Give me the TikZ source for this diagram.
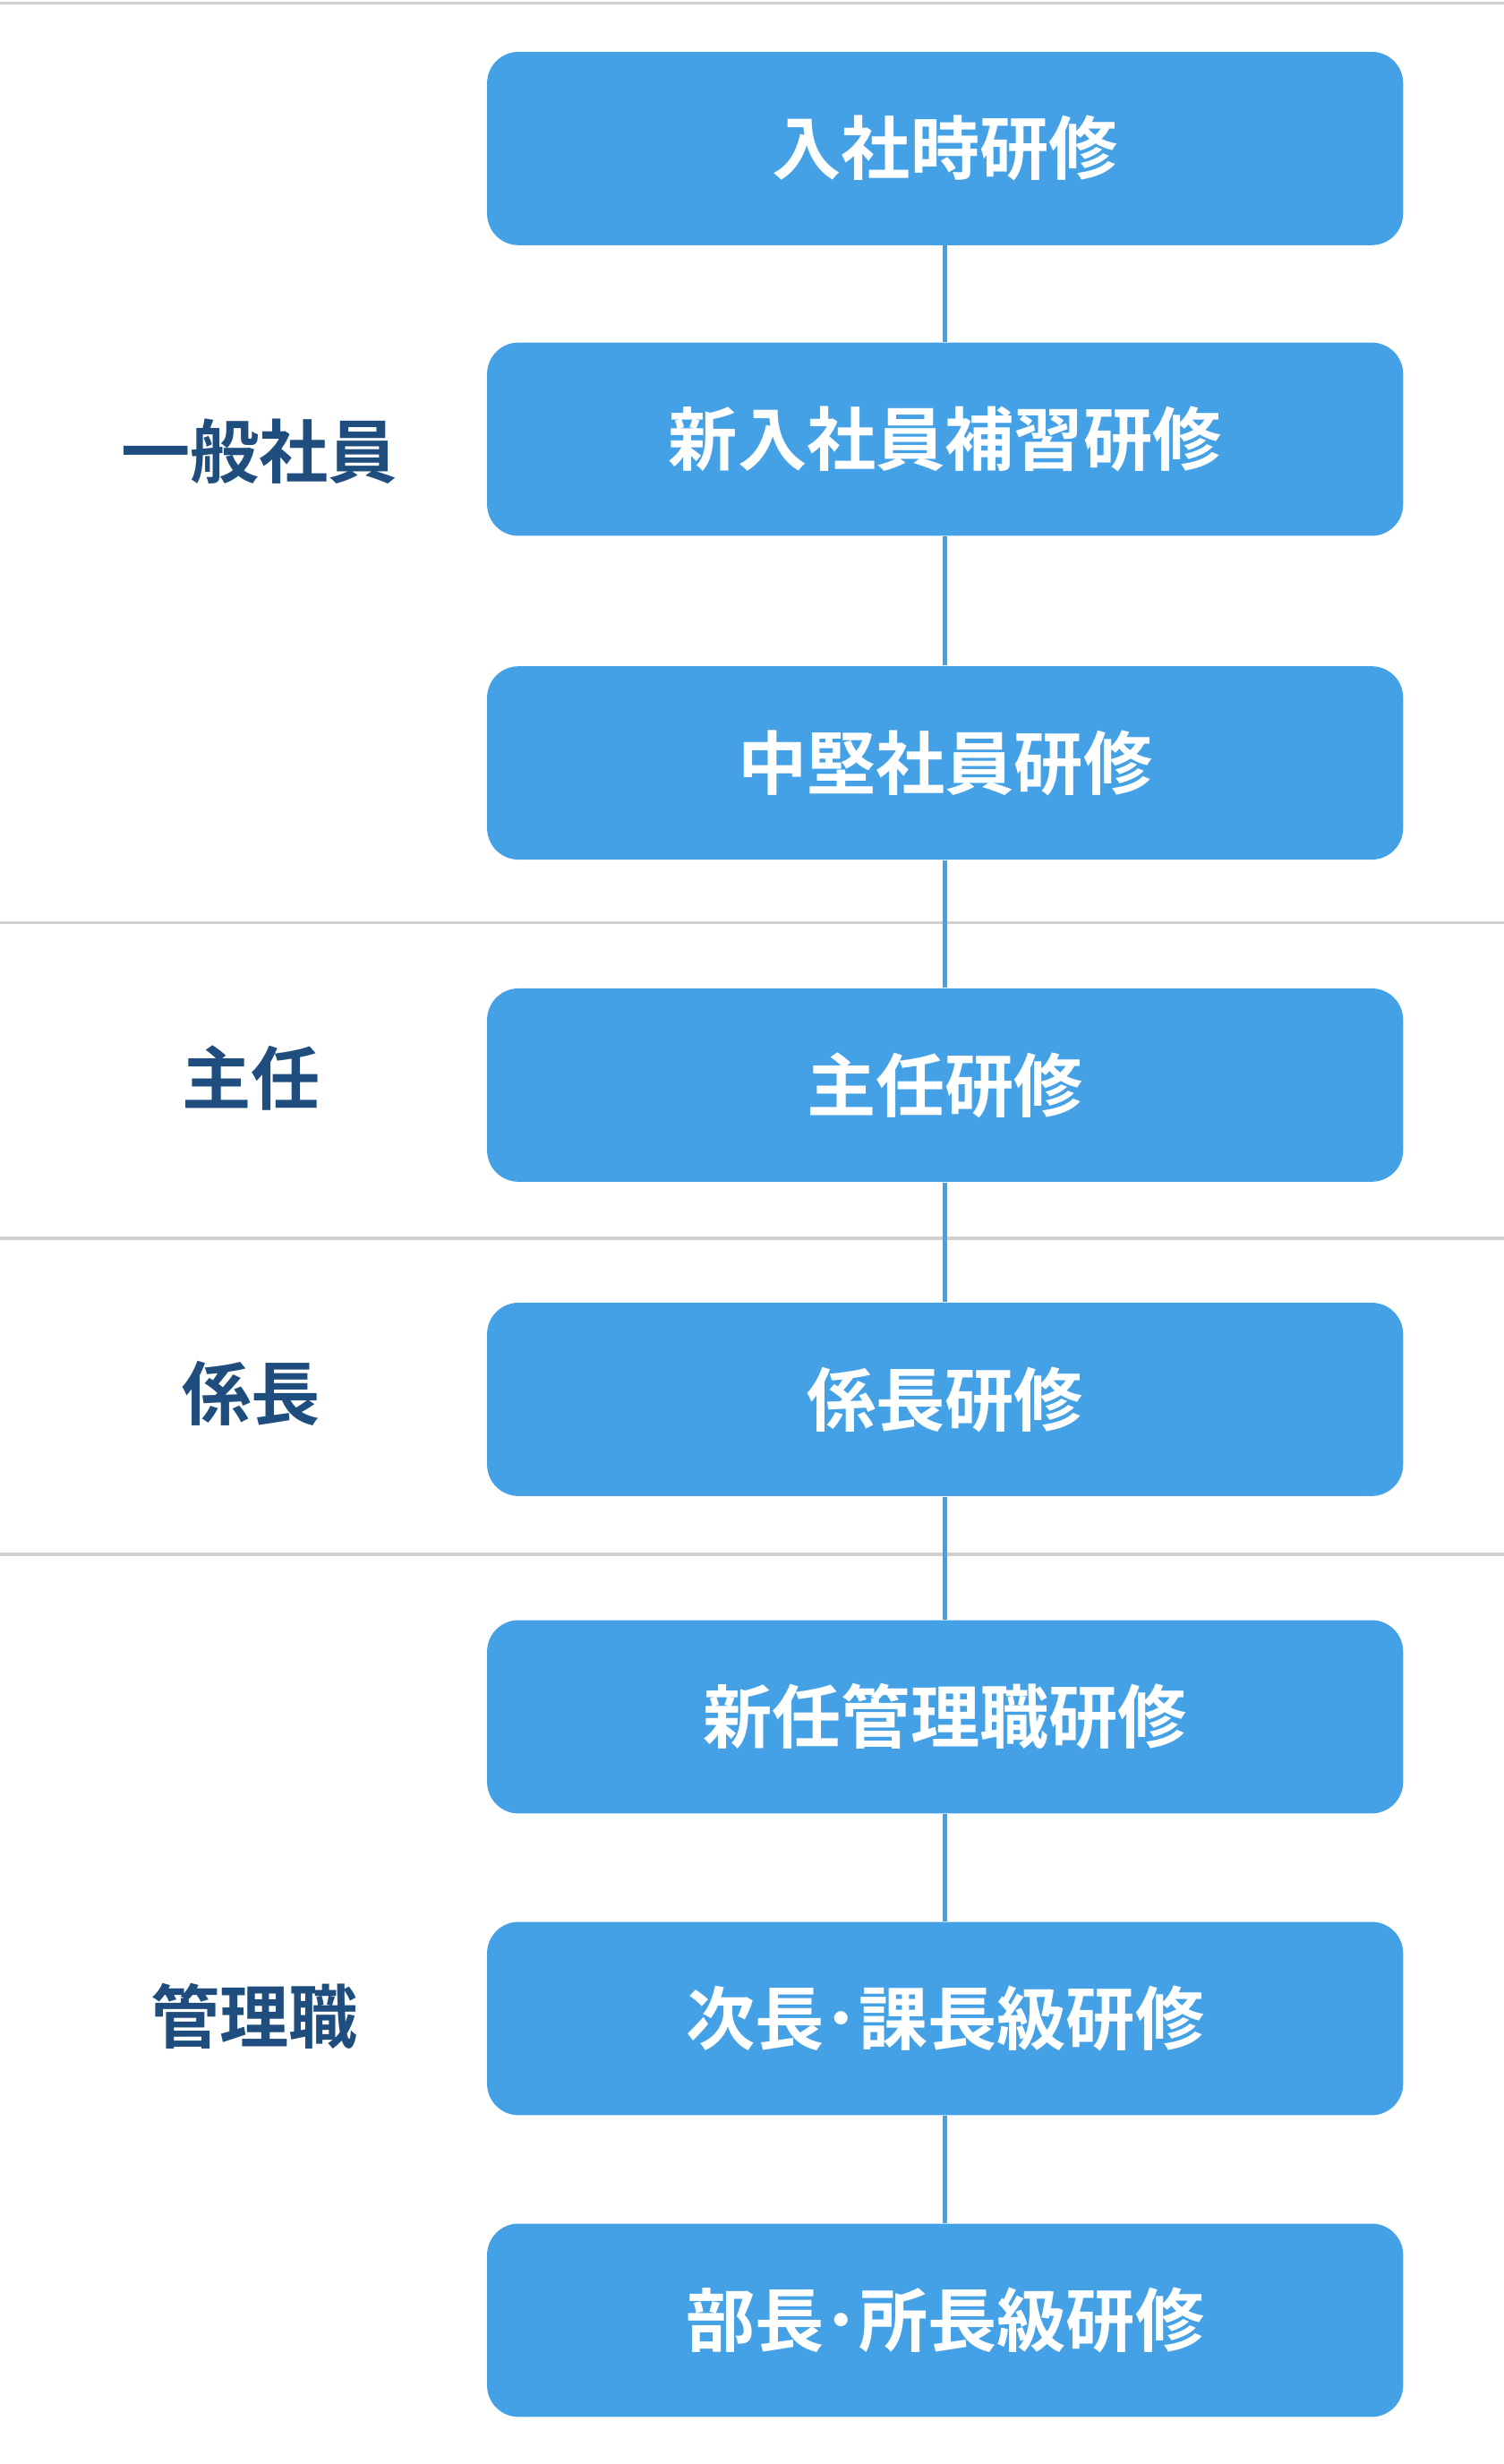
\documentclass[tikz,border=0pt]{standalone}
\usepackage{fontspec}
\newfontfamily\cjk{Noto Sans CJK JP Bold}
\usetikzlibrary{positioning}
\definecolor{boxblue}{HTML}{45A1E5}
\definecolor{labelblue}{HTML}{1F4E7E}
\definecolor{rulegray}{HTML}{D0D0D0}
\begin{document}
\begin{tikzpicture}[x=0.5pt,y=-0.5pt]
\tikzstyle{course}=[rectangle,rounded corners=10pt,fill=boxblue,text=white,minimum width=291.5pt,minimum height=61.5pt,font=\cjk\fontsize{22}{26}\selectfont]
\tikzstyle{rank}=[text=labelblue,font=\cjk\fontsize{22}{26}\selectfont]
\tikzstyle{link}=[draw=boxblue,line width=1.5pt]
\tikzstyle{divider}=[draw=rulegray,line width=1pt]
\useasboundingbox (0,0) rectangle (957,1568);
% dividers
\draw[divider] (0,2) -- (957,2);
\draw[divider] (0,587) -- (957,587);
\draw[divider] (0,788) -- (957,788);
\draw[divider] (0,989) -- (957,989);
% courses
\node[course](c1) at (601.5,94.5) {入社時研修};
\node[course](c2) at (601.5,279.5) {新入社員補習研修};
\node[course](c3) at (601.5,485.5) {中堅社員研修};
\node[course](c4) at (601.5,690.5) {主任研修};
\node[course](c5) at (601.5,890.5) {係長研修};
\node[course](c6) at (601.5,1092.5) {新任管理職研修};
\node[course](c7) at (601.5,1284.5) {次長･課長級研修};
\node[course](c8) at (601.5,1476.5) {部長･所長級研修};
\foreach \a/\b in {c1/c2,c2/c3,c3/c4,c4/c5,c5/c6,c6/c7,c7/c8}
  \draw[link] (\a.south) -- (\b.north);
% ranks
\node[rank](r1) at (165,287) {一般社員};
\node[rank](r2) at (160,686) {主任};
\node[rank](r3) at (160,887) {係長};
\node[rank](r4) at (162,1283) {管理職};
\end{tikzpicture}
\end{document}
